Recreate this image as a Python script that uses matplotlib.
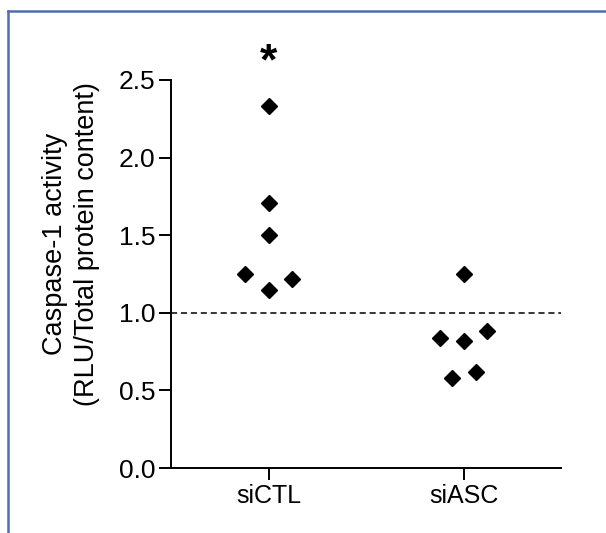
import matplotlib.pyplot as plt
from matplotlib.lines import Line2D

plt.rcParams['font.family'] = ['Liberation Sans', 'DejaVu Sans']

# data
categories = ['siCTL', 'siASC']
sictl = [2.33, 1.71, 1.50, 1.25, 1.22, 1.15]
siasc = [1.25, 0.84, 0.82, 0.88, 0.58, 0.62]
# horizontal scatter of overlapping points (in category units)
sictl_jitter = [0, 0, 0, -0.12, 0.12, 0]
siasc_jitter = [0, -0.12, 0, 0.12, -0.06, 0.065]
y_ticks = [0.0, 0.5, 1.0, 1.5, 2.0, 2.5]
baseline = 1.0
star_level = 2.61

fig = plt.figure(figsize=(6.06, 5.33), dpi=100)
ax = fig.add_axes([171 / 606, 1 - 468 / 533, 390 / 606, 388 / 533])

groups = [sictl, siasc]
jitters = [sictl_jitter, siasc_jitter]
for i, (vals, jit) in enumerate(zip(groups, jitters)):
    xs = [i + j for j in jit]
    ax.plot(xs, vals, linestyle='none', marker='D', markersize=8.2,
            color='black', clip_on=False, zorder=3)

ax.axhline(baseline, color='black', linewidth=1.1, dashes=[4, 2.5], zorder=2)

ax.text(0, star_level, '*', ha='center', va='center', fontsize=32,
        fontweight='bold', clip_on=False)

ax.set_xlim(-0.5, 1.5)
ax.set_ylim(0, 2.5)
ax.set_xticks(range(len(categories)))
ax.set_xticklabels(categories, fontsize=18)
ax.set_yticks(y_ticks)
ax.set_yticklabels([f'{v:.1f}' for v in y_ticks], fontsize=19)

for side in ['top', 'right']:
    ax.spines[side].set_visible(False)
for side in ['left', 'bottom']:
    ax.spines[side].set_linewidth(1.4)
ax.tick_params(direction='out', length=8.5, width=1.4, pad=3)

fig.text(71 / 606, 1 - 244 / 533,
         'Caspase-1 activity\n(RLU/Total protein content)',
         rotation=90, ha='center', va='center', multialignment='center',
         fontsize=19.5, linespacing=1.3)

# blue frame (top and left edges visible)
frame_color = '#4f6fab'
fig.add_artist(Line2D([8 / 606, 1], [1 - 11 / 533, 1 - 11 / 533],
                      color=frame_color, linewidth=1.8,
                      transform=fig.transFigure))
fig.add_artist(Line2D([8 / 606, 8 / 606], [0, 1 - 11 / 533],
                      color=frame_color, linewidth=1.8,
                      transform=fig.transFigure))

fig.savefig('out.png', dpi=100)
